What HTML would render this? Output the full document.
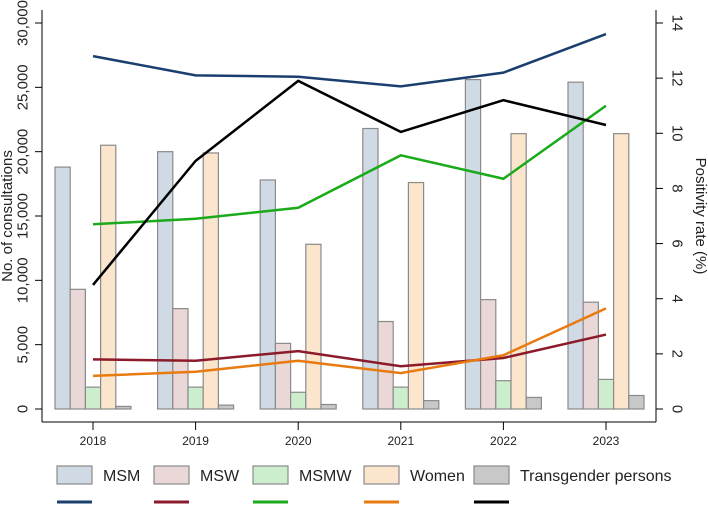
<!DOCTYPE html>
<html><head><meta charset="utf-8"><style>
body{margin:0;background:#fff;font-family:"Liberation Sans",Arial,sans-serif}
svg text{font-family:"Liberation Sans",Arial,sans-serif;fill:#222}
</style></head><body>
<svg id="chart" width="708" height="504" xmlns="http://www.w3.org/2000/svg"></svg>
<script>
const years=["2018","2019","2020","2021","2022","2023"];
const groups=["MSM","MSW","MSMW","Women","Transgender persons"];
const msmCons=[18800,20000,17800,21800,25600,25400];
const mswCons=[9300,7800,5100,6800,8500,8300];
const msmwCons=[1700,1700,1300,1700,2200,2300];
const womenCons=[20500,19900,12800,17600,21400,21400];
const transCons=[200,300,350,650,900,1050];
const msmRate=[12.8,12.1,12.05,11.7,12.2,13.6];
const mswRate=[1.8,1.75,2.1,1.55,1.85,2.7];
const msmwRate=[6.7,6.9,7.3,9.2,8.35,11.0];
const womenRate=[1.2,1.35,1.75,1.3,1.95,3.65];
const transRate=[4.5,9.0,11.9,10.05,11.2,10.3];
const leftTicks=[0,5000,10000,15000,20000,25000,30000];
const rightTicks=[0,2,4,6,8,10,12,14];

const svg=document.getElementById('chart');
const NS='http://www.w3.org/2000/svg';
function el(t,a,p){const e=document.createElementNS(NS,t);for(const k in a)e.setAttribute(k,a[k]);(p||svg).appendChild(e);return e;}
const x0=93,dx=102.6,yb=409,yt=23;
const xs=i=>x0+i*dx;
const yL=v=>yb-(v/30000)*(yb-yt);
const yR=v=>yb-(v/14)*(yb-yt);
const fills=["#d0dae4","#ead7d7","#cdeecd","#fbe5cc","#c8c8c8"];
const lineCols=["#1a3f6f","#8b1a2b","#1aaa1a","#e87a10","#000000"];
const cons=[msmCons,mswCons,msmwCons,womenCons,transCons];
const rates=[msmRate,mswRate,msmwRate,womenRate,transRate];
const bw=15.2;
let a=el('line',{x1:42,y1:10,x2:42,y2:422,stroke:'#000','stroke-width':1});

a=el('line',{x1:42,y1:422,x2:656,y2:422,stroke:'#000','stroke-width':1});

a=el('line',{x1:656,y1:10,x2:656,y2:422,stroke:'#000','stroke-width':1});

leftTicks.forEach(v=>{const y=yL(v);
 el('line',{x1:35,y1:y,x2:42,y2:y,stroke:'#000'});
 const t=el('text',{x:23,y:y,'font-size':15,'text-anchor':'middle',transform:`rotate(-90 23 ${y})`,'dominant-baseline':'central'});t.textContent=v.toLocaleString('en-US');
 });
rightTicks.forEach(v=>{const y=yR(v);
 el('line',{x1:656,y1:y,x2:663,y2:y,stroke:'#000'});
 const t=el('text',{x:677,y:y,'font-size':15,'text-anchor':'middle',transform:`rotate(90 677 ${y})`,'dominant-baseline':'central'});t.textContent=v;
 });
years.forEach((yr,i)=>{const x=xs(i);
 el('line',{x1:x,y1:422,x2:x,y2:430,stroke:'#000'});
 const t=el('text',{x:x,y:445,'font-size':12,'text-anchor':'middle'});t.textContent=yr;
 });
let t=el('text',{x:12,y:216,'font-size':15,'text-anchor':'middle',transform:'rotate(-90 12 216)'});t.textContent='No. of consultations';

t=el('text',{x:696,y:216,'font-size':15,'text-anchor':'middle',transform:'rotate(90 696 216)'});t.textContent='Positivity rate (%)';

cons.forEach((arr,g)=>arr.forEach((v,i)=>{const x=xs(i)-38+g*bw;
 const r=el('rect',{x:x,y:yL(v),width:bw,height:yb-yL(v),fill:fills[g],stroke:'#8a8a8a','stroke-width':1.2});
 
 }));
rates.forEach((arr,g)=>{const p=el('polyline',{points:arr.map((v,i)=>xs(i)+','+yR(v)).join(' '),fill:'none',stroke:lineCols[g],'stroke-width':2.5});
 
 });
const lx=[57,154,253,364,474];
groups.forEach((g,k)=>{
 const r=el('rect',{x:lx[k],y:466,width:35,height:18,fill:fills[k],stroke:'#8a8a8a','stroke-width':1.2});
 
 const tx=el('text',{x:lx[k]+46,y:481,'font-size':16});tx.textContent=g;
 
 const l=el('line',{x1:lx[k],y1:502,x2:lx[k]+35,y2:502,stroke:lineCols[k],'stroke-width':3});
 
});
</script>
</body></html>
